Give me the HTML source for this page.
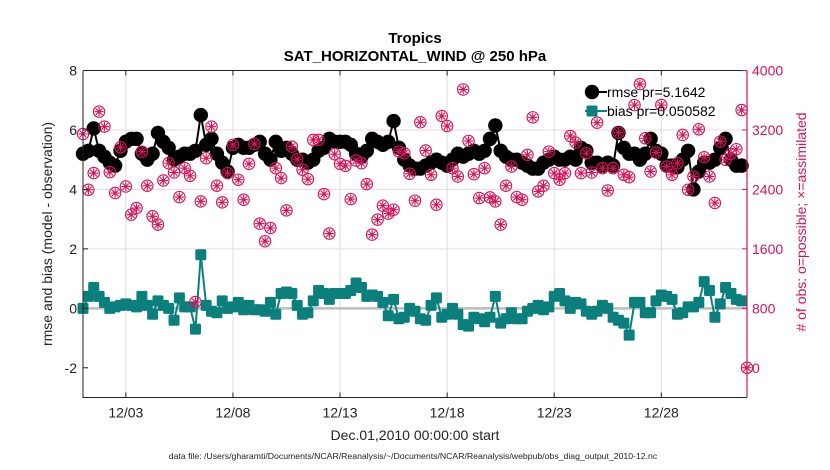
<!DOCTYPE html>
<html><head><meta charset="utf-8"><style>
html,body{margin:0;padding:0;background:#fff;}
svg{display:block;font-family:"Liberation Sans",Arial,sans-serif;}
</style></head><body>
<svg id="chart" width="830" height="470" viewBox="0 0 830 470">
<text x="415" y="43" text-anchor="middle" font-size="15" font-weight="bold">Tropics</text>
<text x="415" y="61" text-anchor="middle" font-size="15" font-weight="bold">SAT_HORIZONTAL_WIND @ 250 hPa</text>
<g id="grid"></g>
<g id="plot"></g>
<g id="axes"></g>
<text transform="translate(52,234) rotate(-90)" text-anchor="middle" font-size="14" fill="#222">rmse and bias (model - observation)</text>
<text transform="translate(806,222) rotate(-90)" text-anchor="middle" font-size="14" fill="#d4145a"># of obs: o=possible; ×=assimilated</text>
<text x="415" y="440" text-anchor="middle" font-size="14" fill="#222">Dec.01,2010 00:00:00 start</text>
<text x="413" y="459" text-anchor="middle" font-size="8.7" fill="#222">data file: /Users/gharamti/Documents/NCAR/Reanalysis/~/Documents/NCAR/Reanalysis/webpub/obs_diag_output_2010-12.nc</text>
<g id="legend"></g>
</svg>
<script>
const rmse=[5.2,5.3,6.05,5.3,5.1,4.9,4.8,5.3,5.6,5.7,5.7,5.2,5.0,5.2,5.9,5.6,5.4,5.0,5.1,5.2,5.2,5.3,6.5,5.5,5.7,5.2,4.9,4.6,5.4,5.5,5.4,5.4,
5.5,5.6,5.2,5.0,5.6,5.3,5.4,5.2,5.0,5.0,4.9,5.0,5.3,5.4,5.7,5.6,5.6,5.6,5.5,5.2,5.1,5.3,5.7,5.6,5.5,5.6,6.3,5.4,5.0,4.8,4.7,4.7,
4.8,4.9,5.0,4.9,4.8,5.0,5.2,5.1,5.2,5.3,5.2,5.3,5.7,6.15,5.3,5.1,5.0,5.0,4.9,4.8,4.7,4.7,4.9,5.0,5.1,5.0,5.0,5.1,5.0,5.4,5.3,4.9,
4.9,4.8,4.9,4.8,5.9,5.4,5.2,5.2,5.0,5.2,5.7,5.3,5.2,4.8,4.8,4.75,5.0,5.3,4.0,4.6,4.9,4.9,5.0,5.4,5.7,5.0,4.8,4.8,null];
const bias=[0,0.4,0.7,0.4,0.2,0,0.05,0.1,0.15,0.1,0.05,0.4,0.1,-0.2,0.25,0.1,0,-0.4,0.35,0.05,0.05,-0.7,1.8,0.1,-0.1,-0.15,0.25,0,0.05,0.2,-0.05,0.1,
-0.05,-0.05,-0.1,0.2,-0.2,0.5,0.55,0.5,0.1,-0.2,-0.15,0.25,0.6,0.5,0.3,0.5,0.5,0.5,0.6,0.85,0.7,0.4,0.45,0.4,0.2,-0.25,0.3,-0.35,-0.3,0,-0.1,-0.35,
-0.4,0.1,0.35,-0.3,-0.2,0,-0.2,-0.55,-0.6,-0.3,-0.35,-0.45,-0.3,0.4,-0.5,-0.35,-0.15,-0.35,-0.35,-0.1,0,0.1,-0.05,0.05,0.4,0.5,0.25,0,0.2,0.15,-0.1,-0.2,
-0.1,0.1,0,-0.3,-0.4,-0.5,-0.9,0.2,0.2,-0.15,-0.15,0.25,0.45,0.4,0.3,-0.2,-0.15,0.05,0.05,0.2,0.9,0.6,-0.3,0.15,0.7,0.5,0.3,0.25,null];
const nobs=[3146,2395,2619,3446,3245,2632,2351,2967,2440,2060,2150,2909,2449,2038,1926,2520,2753,2628,2297,2686,2583,885,2239,2820,3245,2449,2226,2619,2999,2530,2261,2744,
3012,1940,1703,1881,2686,2552,2118,2976,2806,2664,2538,3066,3066,2337,1806,2874,2744,2717,2270,2789,2753,2471,1792,1993,2181,2074,2127,2909,2887,2610,2248,3303,
2923,2597,2194,3388,3253,2686,2574,3745,3052,2605,2284,2686,2293,2239,1926,2449,2708,2297,2261,2865,3370,2373,2449,2909,2619,2530,2619,3119,3030,2619,2887,2628,
3298,2686,2386,2686,3164,2597,2565,3535,3817,3088,2641,2896,3535,2708,2597,2753,3133,2395,2574,3209,2833,2574,2217,3043,2798,2878,2941,3468,0];
const xTickLabels=["12/03","12/08","12/13","12/18","12/23","12/28"];
const xTickDays=[2,7,12,17,22,27];
const yLeftTicks=[-2,0,2,4,6,8];
const yRightTicks=[0,800,1600,2400,3200,4000];
const legendLabels=["rmse pr=5.1642","bias pr=0.050582"];

const L=83,R=747,T=70.5,B=397.5;
const X=d=>L+(d/31)*(R-L);
const Y=v=>T+(8-v)/11*(B-T);
const YR=n=>Y(-2)-n/4000*(Y(-2)-T);
const NS="http://www.w3.org/2000/svg";
function mk(tag,parent,attrs){const e=document.createElementNS(NS,tag);for(const k in attrs)e.setAttribute(k,attrs[k]);parent.appendChild(e);return e;}
const grid=document.getElementById('grid'),plot=document.getElementById('plot'),axes=document.getElementById('axes'),leg=document.getElementById('legend');

xTickDays.forEach((d,i)=>{
  const g=mk('line',grid,{x1:X(d),x2:X(d),y1:T,y2:B,stroke:'#dcdcdc','stroke-width':1});
  
  
  const t=mk('line',axes,{x1:X(d),x2:X(d),y1:B,y2:B-5,stroke:'#222'});
  
  
  const t2=mk('line',axes,{x1:X(d),x2:X(d),y1:T,y2:T+5,stroke:'#222'});
  
  
  const lb=mk('text',axes,{x:X(d),y:B+20,'text-anchor':'middle','font-size':14,fill:'#222'});
  lb.textContent=xTickLabels[i];
  
  
});
yRightTicks.forEach(n=>{
  if(n===0||n===4000)return;
  const g=mk('line',grid,{x1:L,x2:R,y1:YR(n),y2:YR(n),stroke:'#f1d5df','stroke-width':1});
  
  
});
const z=mk('line',grid,{x1:L,x2:R,y1:Y(0),y2:Y(0),stroke:'#bdbdbd','stroke-width':2.5});



let pts=[];rmse.forEach((v,i)=>{if(v!==null)pts.push(X(i*0.25)+','+Y(v));});
const rl=mk('polyline',plot,{points:pts.join(' '),fill:'none',stroke:'#000','stroke-width':2});


rmse.forEach((v,i)=>{if(v===null)return;
  const c=mk('circle',plot,{cx:X(i*0.25),cy:Y(v),r:7.2,fill:'#000'});
  
  });
pts=[];bias.forEach((v,i)=>{if(v!==null)pts.push(X(i*0.25)+','+Y(v));});
const bl=mk('polyline',plot,{points:pts.join(' '),fill:'none',stroke:'#0b7f7c','stroke-width':2});


bias.forEach((v,i)=>{if(v===null)return;
  const s=mk('rect',plot,{x:X(i*0.25)-5.5,y:Y(v)-5.5,width:11,height:11,rx:1.5,fill:'#0b7f7c'});
  
  });
function obsMarker(parent,cx,cy){
  const g=mk('g',parent,{stroke:'#d4145a','stroke-width':1.1,fill:'none'});
  mk('circle',g,{cx:cx,cy:cy,r:5.7});
  for(let a=0;a<4;a++){const ang=a*Math.PI/4;const dx=4.7*Math.cos(ang),dy=4.7*Math.sin(ang);
    mk('line',g,{x1:cx-dx,y1:cy-dy,x2:cx+dx,y2:cy+dy});}
  return g;
}
nobs.forEach((n,i)=>{
  const g=obsMarker(plot,X(i*0.25),YR(n));
  
  
});

const fr=mk('path',axes,{d:`M${L},${T}H${R}M${L},${T}V${B}H${R}`,fill:'none',stroke:'#222','stroke-width':1});


const ra=mk('line',axes,{x1:R,x2:R,y1:T,y2:B,stroke:'#d4145a','stroke-width':1.2});


yLeftTicks.forEach(v=>{
  const t=mk('line',axes,{x1:L,x2:L+5,y1:Y(v),y2:Y(v),stroke:'#222'});
  
  
  const lb=mk('text',axes,{x:L-6,y:Y(v)+5,'text-anchor':'end','font-size':14,fill:'#222'});
  lb.textContent=v;
  
  
});
yRightTicks.forEach(n=>{
  const t=mk('line',axes,{x1:R-5,x2:R,y1:YR(n),y2:YR(n),stroke:'#d4145a'});
  
  
  const lb=mk('text',axes,{x:R+5,y:YR(n)+5,'font-size':14,fill:'#d4145a'});
  lb.textContent=n;
  
  
});

const ly=[92,111];
legendLabels.forEach((s,i)=>{
  const col=i===0?'#000':'#0b7f7c';
  const ln=mk('line',leg,{x1:585,x2:607,y1:ly[i],y2:ly[i],stroke:col,'stroke-width':2});
  
  
  let m;
  if(i===0)m=mk('circle',leg,{cx:592,cy:ly[i],r:7.2,fill:'#000'});
  else m=mk('rect',leg,{x:586.5,y:ly[i]-5.5,width:11,height:11,rx:1.5,fill:col});
  
  
  const t=mk('text',leg,{x:607,y:ly[i]+5,'font-size':14,fill:'#000'});
  t.textContent=s;
  
  
});
</script>
</body></html>
